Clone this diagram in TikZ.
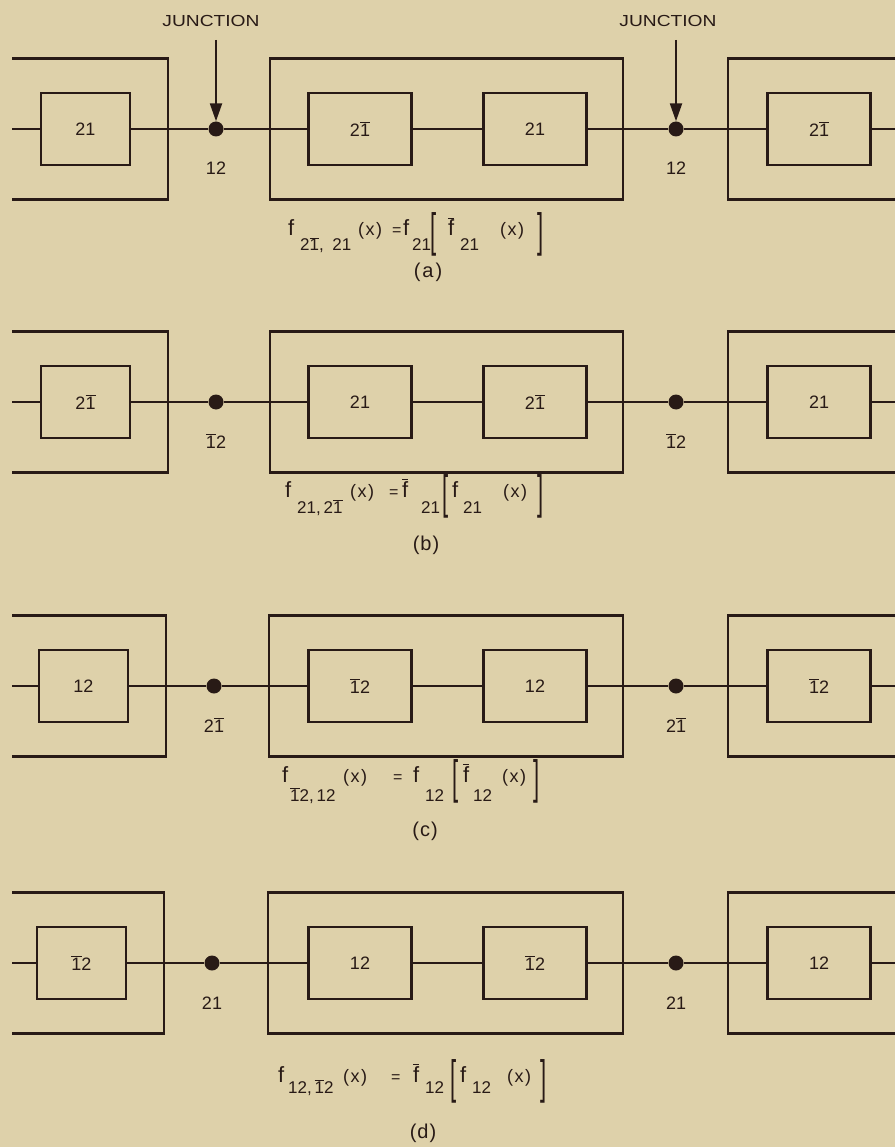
\documentclass[tikz,border=0pt]{standalone}
\usepackage{fontspec}
\setmainfont{Liberation Sans}
\usetikzlibrary{arrows.meta}
\definecolor{paper}{RGB}{222,209,170}
\definecolor{ink}{RGB}{40,26,22}
\newcommand\ob[1]{\ensuremath{\overline{\mbox{#1}}}}
\newcommand\fsub[2][15]{\raisebox{-#1pt}{\fontsize{17}{17}\selectfont #2}}
\newcommand\fx{{\fontsize{18}{18}\selectfont(\kern1.5pt x\kern1.5pt)}}
\newcommand\feq{{\fontsize{16}{16}\selectfont=}}
\newcommand\lbr{\raisebox{-11pt}{\scalebox{1}[2.13]{[}}}
\newcommand\rbr{\raisebox{-11pt}{\scalebox{1}[2.13]{]}}}
\newcommand\seg[2]{\makebox[#1pt][l]{#2}}
\tikzset{
  ink line/.style={draw=ink, line width=2.2pt},
  ibox/.style={ink line, rectangle, minimum width=103pt, minimum height=72pt, inner sep=0pt,
               text=ink, font=\fontsize{18}{18}\selectfont},
  lbox/.style={ibox, minimum width=89pt},
  obox/.style={ink line, line join=miter},
  sig/.style={ink line},
  dot/.style={circle, fill=ink, draw=none, minimum size=15pt, inner sep=0pt},
  jlab/.style={anchor=base, text=ink, font=\fontsize{18}{18}\selectfont, inner sep=0pt},
  jct/.style={anchor=base, text=ink, font=\fontsize{16}{16}\selectfont, inner sep=0pt},
  arr/.style={ink line, -{Triangle[length=18pt,width=12pt]}},
  fml/.style={anchor=base west, text=ink, font=\fontsize{22}{24}\selectfont, inner sep=0pt},
  plab/.style={anchor=base, text=ink, font=\fontsize{20}{20}\selectfont, inner sep=0pt}
}
% #1 id, #2 signal y, #3 left shift, #4 left box, #5 mid1, #6 mid2, #7 right box, #8 junction label
\newcommand\panel[8]{%
  \node[lbox] (#1L) at (85.5+#3,#2) {#4};
  \node[ibox] (#1Ma) at (360,#2) {#5};
  \node[ibox] (#1Mb) at (535,#2) {#6};
  \node[ibox] (#1R) at (819,#2) {#7};
  \node[dot] (#1Ja) at (216+#3,#2) {};
  \node[dot] (#1Jb) at (676,#2) {};
  \coordinate (#1S) at (12,#2);
  \coordinate (#1E) at (895,#2);
  \draw[sig] (#1S) -- (#1L) -- (#1Ja) -- (#1Ma) -- (#1Mb) -- (#1Jb) -- (#1R) -- (#1E);
  \draw[obox] (12,#2-70.5) -| (168+#3,#2+70.5) -- (12,#2+70.5);
  \draw[obox] (270+0.5*#3,#2-70.5) rectangle (623,#2+70.5);
  \draw[obox] (895,#2-70.5) -| (728,#2+70.5) -- (895,#2+70.5);
  \node[jlab] (#1la) at (216+#3,#2+46) {#8};
  \node[jlab] (#1lb) at (676,#2+46) {#8};
}
\begin{document}
\begin{tikzpicture}[x=1pt,y=-1pt]
\useasboundingbox[fill=paper] (0,0) rectangle (895,1147);
% panel (a)
\panel{a}{129}{0}{21}{2\ob{1}}{21}{2\ob{1}}{12}
\node[jct] (jta) at (211,27) {\scalebox{1.2}[1]{JUNCTION}};
\node[jct] (jtb) at (668,27) {\scalebox{1.2}[1]{JUNCTION}};
\coordinate (qa) at (216,40);
\coordinate (qb) at (676,40);
\draw[arr] (qa) -- (aJa.north);
\draw[arr] (qb) -- (aJb.north);
\node[fml] (fa) at (288,236) {\seg{12}{f}\seg{58}{\fsub{2\ob{1},\enspace21}}\seg{34}{\fx}\seg{11}{\feq}\seg{9}{f}\seg{18}{\fsub{21}}\seg{18}{\lbr}\seg{12}{\ob{f}}\seg{40}{\fsub{21}}\seg{37}{\fx}\rbr};
\node[plab] (pa) at (428,278) {(\kern2pt a\kern2pt)};
% panel (b)
\panel{b}{402}{0}{2\ob{1}}{21}{2\ob{1}}{21}{\ob{1}2}
\node[fml] (fb) at (285,497) {\seg{12}{f}\seg{53}{\fsub[16]{21,\,2\ob{1}}}\seg{39}{\fx}\seg{13}{\feq}\seg{19}{\ob{f}}\seg{21}{\fsub[16]{21}}\seg{10}{\lbr}\seg{11}{f}\seg{40}{\fsub[16]{21}}\seg{34}{\fx}\rbr};
\node[plab] (pb) at (426,550) {(\kern1pt b\kern1pt)};
% panel (c)
\panel{c}{686}{-2}{12}{\ob{1}2}{12}{\ob{1}2}{2\ob{1}}
\node[fml] (fc) at (282,782) {\seg{8}{f}\seg{53}{\fsub[19]{\ob{1}2,\,12}}\seg{50}{\fx}\seg{20}{\feq}\seg{12}{f}\seg{27}{\fsub[19]{12}}\seg{11}{\lbr}\seg{10}{\ob{f}}\seg{29}{\fsub[19]{12}}\seg{31}{\fx}\rbr};
\node[plab] (pc) at (425,836) {(\kern1pt c\kern1pt)};
% panel (d)
\panel{d}{963}{-4}{\ob{1}2}{12}{\ob{1}2}{12}{21}
\node[fml] (fd) at (278,1082) {\seg{10}{f}\seg{55}{\fsub[11]{12,\,\ob{1}2}}\seg{48}{\fx}\seg{22}{\feq}\seg{12}{\ob{f}}\seg{25}{\fsub[11]{12}}\seg{10}{\lbr}\seg{12}{f}\seg{35}{\fsub[11]{12}}\seg{33}{\fx}\rbr};
\node[plab] (pd) at (423,1138) {(\kern1pt d\kern1pt)};
\end{tikzpicture}
\end{document}
